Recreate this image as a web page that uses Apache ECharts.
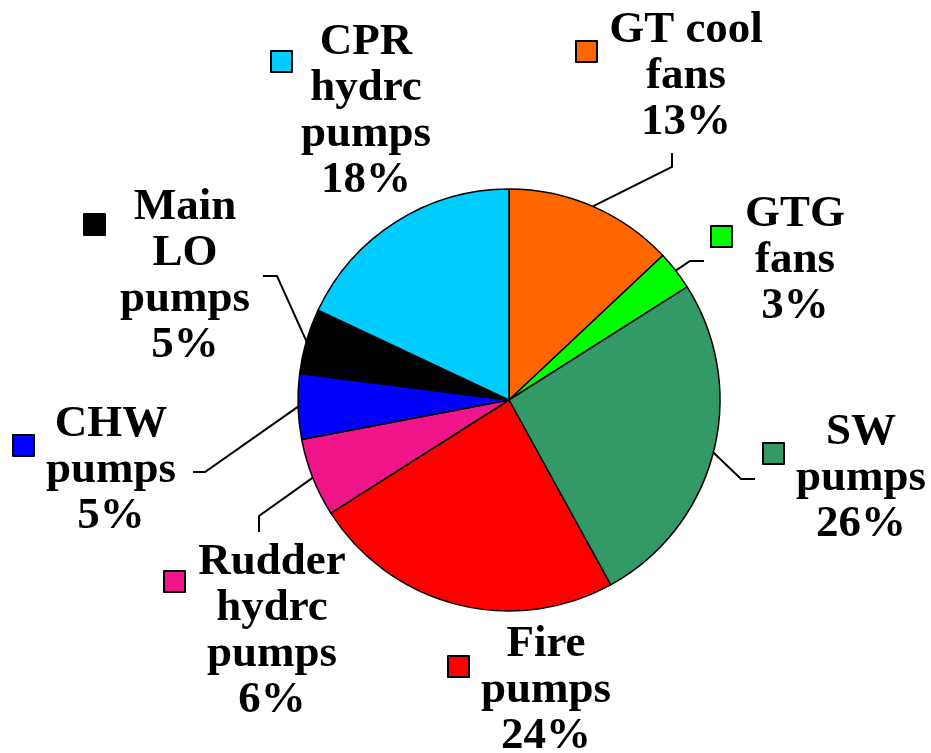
<!DOCTYPE html>
<html>
<head>
<meta charset="utf-8">
<script src="https://cdn.jsdelivr.net/npm/echarts@6/dist/echarts.min.js"></script>
<style>
html,body{margin:0;padding:0;background:#fff;}
#chart{width:931px;height:753px;}
</style>
</head>
<body>
<div id="chart"></div>
<script>
// data, clockwise from 12 o'clock
var names = ['GT cool\nfans','GTG\nfans','SW\npumps','Fire\npumps','Rudder\nhydrc\npumps','CHW\npumps','Main\nLO\npumps','CPR\nhydrc\npumps'];
var shares = [13,3,26,24,6,5,5,18];
var colors = ['#FF6600','#00FF00','#339966','#FF0000','#F0168A','#0000FF','#000000','#00CCFF'];

// label placement: text centre x, top y
var labelPos = [[686,7],[795,191],[861,409],[546,621],[272,539],[111,401],[185,184],[366,19]];
// legend key squares (top-left)
var keyPos = [[575,40],[710,225],[762,442],[447,655],[163,570],[12,434],[83,213],[270,50]];
// leader line bends (null = no line)
var bends = [
  [[672,167],[672,153]],
  [[690,261],[704,261]],
  [[741,479],[755,479]],
  null,
  [[259,516],[259,532]],
  [[205,472],[193,472]],
  [[277,276],[263,276]],
  null
];

var cx = 509, cy = 400, R = 211;

var pieData = names.map(function(n,i){
  return {
    name: n,
    value: shares[i],
    itemStyle: {color: colors[i]},
    labelLine: {show: bends[i] != null}
  };
});

var legends = names.map(function(n,i){
  return {
    data: [n],
    left: keyPos[i][0],
    top: keyPos[i][1],
    padding: 0,
    itemWidth: 21,
    itemHeight: 21,
    icon: 'rect',
    selectedMode: false,
    itemStyle: {borderColor: '#000', borderWidth: 2},
    formatter: function(){ return ''; },
    textStyle: {fontSize: 1}
  };
});

var chart = echarts.init(document.getElementById('chart'));
chart.setOption({
  backgroundColor: '#fff',
  animation: false,
  legend: legends,
  series: [{
    type: 'pie',
    center: [cx, cy],
    radius: R,
    startAngle: 90,
    clockwise: true,
    data: pieData,
    itemStyle: {borderColor: '#000', borderWidth: 1.5},
    label: {
      show: true,
      position: 'outside',
      formatter: '{b}\n{c}%',
      fontFamily: '"Liberation Serif", "Times New Roman", serif',
      fontWeight: 'bold',
      fontSize: 45,
      lineHeight: 46,
      color: '#000',
      align: 'center'
    },
    labelLine: {
      show: true,
      lineStyle: {color: '#000', width: 2}
    },
    labelLayout: function(p){
      var i = p.dataIndex;
      var out = {
        x: labelPos[i][0],
        y: labelPos[i][1],
        align: 'center',
        verticalAlign: 'top'
      };
      if (bends[i]) {
        // start on the slice edge at its mid angle
        var acc = 0, tot = 0;
        for (var k = 0; k < shares.length; k++) tot += shares[k];
        for (var k = 0; k < i; k++) acc += shares[k];
        var a = (acc + shares[i] / 2) / tot * 2 * Math.PI;
        var sx = cx + R * Math.sin(a), sy = cy - R * Math.cos(a);
        out.labelLinePoints = [[sx, sy], bends[i][0], bends[i][1]];
      }
      return out;
    }
  }]
});
</script>
</body>
</html>
